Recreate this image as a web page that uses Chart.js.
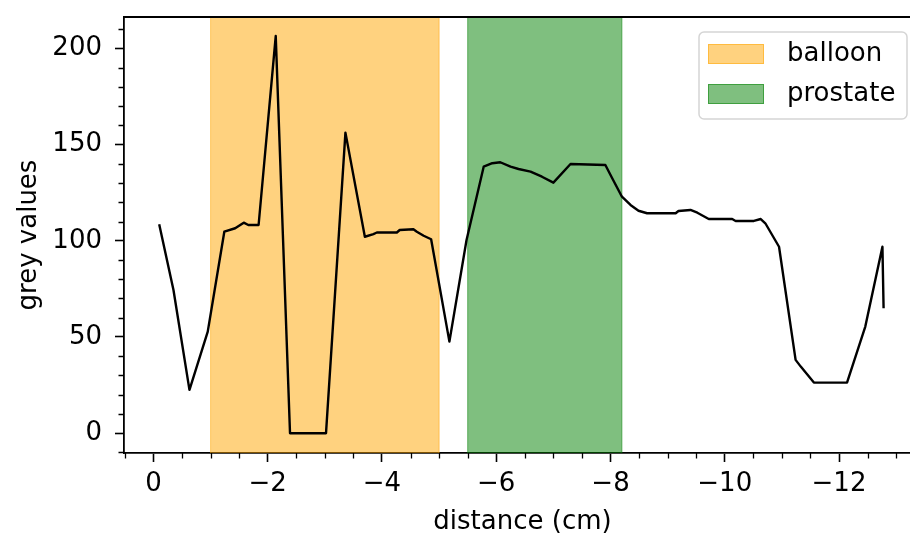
<!DOCTYPE html>
<html>
<head>
<meta charset="utf-8">
<script src="https://cdn.jsdelivr.net/npm/chart.js@4/dist/chart.umd.min.js"></script>
<style>
  html, body { margin: 0; padding: 0; background: #fff; overflow: hidden; }
  #wrap { width: 910px; height: 538px; overflow: hidden; }
</style>
</head>
<body>
<div id="wrap"><canvas id="perfil" width="921" height="538"></canvas></div>
<script>
// profile along the catheter
var distancia = [-0.10, -0.35, -0.63, -0.95, -1.24, -1.43, -1.58, -1.66, -1.84, -2.14, -2.39, -3.02, -3.36,
  -3.70, -3.85, -3.91, -4.26, -4.31, -4.55, -4.61, -4.73, -4.86, -5.18, -5.48, -5.78, -5.93, -6.07, -6.25,
  -6.39, -6.60, -6.80, -7.00, -7.30, -7.91, -8.03, -8.20, -8.35, -8.49, -8.64, -9.14, -9.19, -9.40, -9.52,
  -9.72, -10.13, -10.19, -10.51, -10.63, -10.71, -10.95, -11.24, -11.33, -11.56, -12.14, -12.46, -12.76, -12.78];
var cinza = [108.6, 74.4, 22.5, 52.8, 104.7, 106.5, 109.4, 108.2, 108.2, 206.4, 0, 0, 156.2,
  102.1, 103.5, 104.3, 104.3, 105.6, 106.0, 104.7, 102.6, 100.8, 47.6, 100.4, 138.5, 140.3, 140.8, 138.5,
  137.3, 135.9, 133.3, 130.2, 139.9, 139.4, 132.5, 122.9, 118.6, 115.6, 114.3, 114.3, 115.5, 116.0, 114.6,
  111.3, 111.3, 110.3, 110.3, 111.3, 109.1, 96.9, 38.1, 34.6, 26.3, 26.3, 55.4, 96.9, 64.9];

// shaded regions
var regioes = ["balloon", "prostate"];
var regiao_inicio = [-1.0, -5.5];
var regiao_fim = [-5.0, -8.2];

var ticks_x = [0, -2, -4, -6, -8, -10, -12];
var ticks_y = [0, 50, 100, 150, 200];

var cores = ["rgba(255,165,0,0.5)", "rgba(0,128,0,0.5)"];
var fonte = { family: "DejaVu Sans", size: 26 };

var pontos = distancia.map(function(d, i){ return { x: d, y: cinza[i] }; });

function menos(v){
    return v < 0 ? "\u2212" + Math.abs(v) : String(v);
}

var faixas = {
    id: "faixas",
    beforeDatasetsDraw: function(chart){
        var ctx = chart.ctx, area = chart.chartArea, sx = chart.scales.x;
        ctx.save();
        ctx.beginPath();
        ctx.rect(area.left, area.top, area.right - area.left, area.bottom - area.top);
        ctx.clip();
        for (var i = 0; i < regioes.length; i++) {
            var a = sx.getPixelForValue(regiao_inicio[i]);
            var b = sx.getPixelForValue(regiao_fim[i]);
            ctx.fillStyle = cores[i];
            ctx.fillRect(a, area.top, b - a, area.bottom - area.top);
            ctx.strokeStyle = cores[i];
            ctx.lineWidth = 1;
            ctx.beginPath();
            ctx.moveTo(a, area.top); ctx.lineTo(a, area.bottom);
            ctx.moveTo(b, area.top); ctx.lineTo(b, area.bottom);
            ctx.stroke();
        }
        ctx.restore();
    },
    afterDraw: function(chart){
        var ctx = chart.ctx, area = chart.chartArea;
        var sx = chart.scales.x, sy = chart.scales.y;
        ctx.save();
        // minor ticks
        ctx.strokeStyle = "#000";
        ctx.lineWidth = 1.3;
        ctx.beginPath();
        for (var v = -13; v <= 0.5; v += 0.5) {
            if (v % 2 === 0) continue;
            var px = Math.round(sx.getPixelForValue(v)) + 0.5;
            ctx.moveTo(px, area.bottom); ctx.lineTo(px, area.bottom + 5.5);
        }
        for (var w = -10; w <= 210; w += 10) {
            if (w % 50 === 0) continue;
            var py = Math.round(sy.getPixelForValue(w)) + 0.5;
            ctx.moveTo(area.left, py); ctx.lineTo(area.left - 5.5, py);
        }
        ctx.stroke();
        // top spine
        ctx.lineWidth = 1.8;
        ctx.beginPath();
        ctx.moveTo(area.left - 1, area.top);
        ctx.lineTo(area.right, area.top);
        ctx.stroke();

        // legend
        var lx = 699, ly = 32, lw = 208, lh = 87;
        ctx.fillStyle = "rgba(255,255,255,0.8)";
        ctx.strokeStyle = "#d5d5d5";
        ctx.lineWidth = 1.5;
        ctx.beginPath();
        ctx.roundRect(lx, ly, lw, lh, 5);
        ctx.fill();
        ctx.stroke();
        ctx.font = fonte.size + "px " + fonte.family;
        ctx.textBaseline = "middle";
        for (var i = 0; i < regioes.length; i++) {
            var cy = 54 + i * 40;
            ctx.fillStyle = cores[i];
            ctx.fillRect(708, cy - 10, 56, 20);
            ctx.strokeStyle = cores[i];
            ctx.lineWidth = 1;
            ctx.strokeRect(708.5, cy - 9.5, 55, 19);
            ctx.fillStyle = "#000";
            ctx.fillText(regioes[i], 787, cy);
        }
        ctx.restore();
    }
};

var ctx = document.getElementById("perfil").getContext("2d");
var grafico = new Chart(ctx, {
    type: "line",
    data: {
        datasets: [{
            label: "grey values",
            data: pontos,
            borderColor: "#000",
            borderWidth: 2.4,
            borderJoinStyle: "round",
            pointRadius: 0,
            tension: 0,
            fill: false
        }]
    },
    options: {
        responsive: false,
        animation: false,
        layout: { padding: { top: 17, right: 0, bottom: 0, left: 0 } },
        plugins: {
            legend: { display: false },
            tooltip: { enabled: false }
        },
        scales: {
            x: {
                type: "linear",
                reverse: true,
                min: -13.435,
                max: 0.516,
                afterFit: function(s){ s.height = 85; s.paddingLeft = 0; s.paddingRight = 0; },
                afterBuildTicks: function(s){ s.ticks = ticks_x.map(function(v){ return { value: v }; }); },
                grid: { drawOnChartArea: false, tickLength: 9, tickColor: "#000", tickWidth: 1.6 },
                border: { color: "#000", width: 1.8 },
                ticks: { color: "#000", font: fonte, padding: 7, maxRotation: 0, autoSkip: false,
                    callback: function(v){ return menos(v); } },
                title: { display: true, text: "distance (cm)", color: "#000", font: fonte, padding: { top: 0, bottom: 0 } }
            },
            y: {
                type: "linear",
                min: -10.3,
                max: 216.3,
                afterFit: function(s){ s.width = 124; s.paddingTop = 0; s.paddingBottom = 0; },
                afterBuildTicks: function(s){ s.ticks = ticks_y.map(function(v){ return { value: v }; }); },
                grid: { drawOnChartArea: false, tickLength: 9, tickColor: "#000", tickWidth: 1.6 },
                border: { color: "#000", width: 1.8 },
                ticks: { color: "#000", font: fonte, padding: 13, autoSkip: false },
                title: { display: true, text: "grey values", color: "#000", font: fonte, padding: { top: 14, bottom: 0 } }
            }
        }
    },
    plugins: [faixas]
});
</script>
</body>
</html>
